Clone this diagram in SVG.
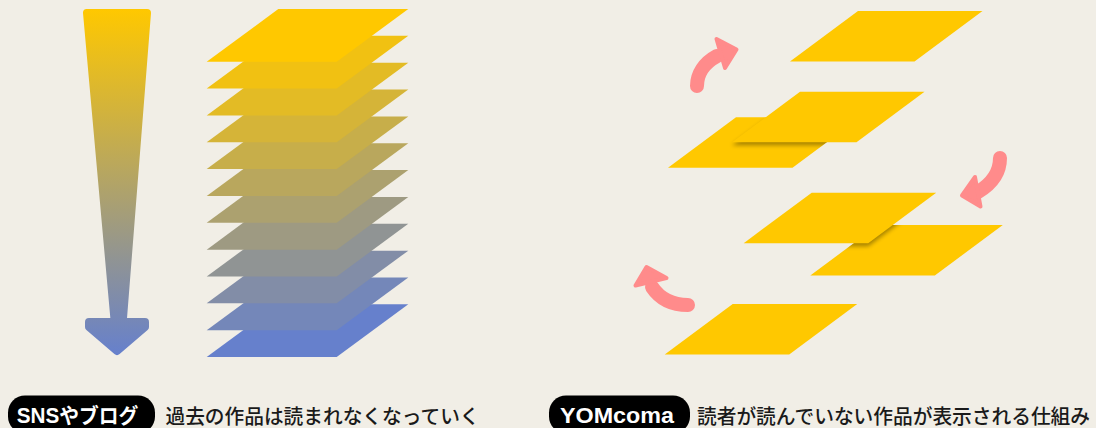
<svg xmlns="http://www.w3.org/2000/svg" xmlns:xlink="http://www.w3.org/1999/xlink" width="1096" height="428" viewBox="0 0 1096 428">
  <defs>
    <style>
      .bg { fill: #F1EEE6; }
      .yel { fill: #FFC800; }
      .pink-shaft { fill: none; stroke: #FF8B8B; stroke-width: 14; stroke-linecap: round; }
      .pink-head { fill: #FF8B8B; stroke: #FF8B8B; stroke-width: 4; stroke-linejoin: round; }
      .pill { fill: #000; }
      .pill-text { fill: #fff; font-family: "Liberation Sans", Arial, "Noto Sans CJK JP", sans-serif; font-weight: bold; font-size: 22px; }
      .kana { font-family: "Noto Sans CJK JP", sans-serif; font-size: 21px; }
      .caption { fill: #1A1A1A; font-family: "Noto Sans CJK JP", "Noto Sans", sans-serif; font-weight: 500; font-size: 20px; }
      .shadow { fill: #000; opacity: 0.35; }
    </style>
    <linearGradient id="arrowGrad" x1="0" y1="9" x2="0" y2="355" gradientUnits="userSpaceOnUse">
      <stop offset="0" stop-color="#FFC800"/>
      <stop offset="1" stop-color="#6680CC"/>
    </linearGradient>
    <polygon id="lp" points="278.3,9 408.3,9 336.7,61.7 206.7,61.7"/>
    <polygon id="rp" points="68,0 192.5,0 124.5,50.5 0,50.5"/>
    <filter id="blur" x="-20%" y="-50%" width="140%" height="200%">
      <feGaussianBlur stdDeviation="2"/>
    </filter>
    <clipPath id="clipC">
      <use xlink:href="#rp" transform="translate(668,117.3)"/>
    </clipPath>
    <clipPath id="clipE">
      <use xlink:href="#rp" transform="translate(810.3,225)"/>
    </clipPath>
  </defs>

  <rect class="bg" x="0" y="0" width="1096" height="428"/>

  <!-- Left: big gradient arrow -->
  <g id="time-arrow">
    <path d="M87,13 L147,13 L122.7,322 L145,322 L145,327 L117,351 L89,327 L89,322 L114.7,322 Z" fill="url(#arrowGrad)" stroke="url(#arrowGrad)" stroke-width="8" stroke-linejoin="round"/>
  </g>

  <!-- Left: stack of posts (bottom drawn first) -->
  <g id="post-stack">
    <use xlink:href="#lp" transform="translate(0,295.35)" fill="#6680CC"/>
    <use xlink:href="#lp" transform="translate(0,268.5)" fill="#7487B9"/>
    <use xlink:href="#lp" transform="translate(0,241.65)" fill="#828DA7"/>
    <use xlink:href="#lp" transform="translate(0,214.8)" fill="#909494"/>
    <use xlink:href="#lp" transform="translate(0,187.95)" fill="#9E9A82"/>
    <use xlink:href="#lp" transform="translate(0,161.1)" fill="#ACA16F"/>
    <use xlink:href="#lp" transform="translate(0,134.25)" fill="#B9A75D"/>
    <use xlink:href="#lp" transform="translate(0,107.4)" fill="#C7AE4A"/>
    <use xlink:href="#lp" transform="translate(0,80.55)" fill="#D5B438"/>
    <use xlink:href="#lp" transform="translate(0,53.7)" fill="#E3BB25"/>
    <use xlink:href="#lp" transform="translate(0,26.85)" fill="#F1C112"/>
    <use xlink:href="#lp" transform="translate(0,0)" fill="#FFC800"/>
  </g>

  <!-- Right: shuffled posts -->
  <g id="post-a">
    <use xlink:href="#rp" class="yel" transform="translate(790,11)"/>
  </g>
  <g id="post-c">
    <use xlink:href="#rp" class="yel" transform="translate(668,117.3)"/>
    <g clip-path="url(#clipC)">
      <use xlink:href="#rp" class="shadow" transform="translate(732,94.7)" filter="url(#blur)"/>
    </g>
  </g>
  <g id="post-b">
    <use xlink:href="#rp" class="yel" transform="translate(732,91.7)"/>
  </g>
  <g id="post-e">
    <use xlink:href="#rp" class="yel" transform="translate(810.3,225)"/>
    <g clip-path="url(#clipE)">
      <use xlink:href="#rp" class="shadow" transform="translate(743.7,195.7)" filter="url(#blur)"/>
    </g>
  </g>
  <g id="post-d">
    <use xlink:href="#rp" class="yel" transform="translate(743.7,192.7)"/>
  </g>
  <g id="post-f">
    <use xlink:href="#rp" class="yel" transform="translate(664.7,304)"/>
  </g>

  <!-- Cycle arrows -->
  <g id="connectors">
    <path class="pink-shaft" d="M697,86 C697,74 704,63 717,56"/>
    <polygon class="pink-head" points="716.5,39 736.5,49.5 725,68"/>
    <path class="pink-shaft" d="M1000,158 C1000,172 993,183 978,192"/>
    <polygon class="pink-head" points="975,177 980.5,206.5 962,195.5"/>
    <path class="pink-shaft" d="M688,305 C672,305 660,299 652,287"/>
    <polygon class="pink-head" points="646.5,267 666.5,278 635.5,285.5"/>
  </g>

  <!-- Labels -->
  <g id="label-left">
    <rect class="pill" x="8" y="395.5" width="147" height="38" rx="17"/>
    <text class="pill-text" x="16.7" y="423" textLength="121.5" lengthAdjust="spacingAndGlyphs">SNS<tspan class="kana">やブログ</tspan></text>
    <text class="caption" x="165.5" y="424" textLength="314" lengthAdjust="spacingAndGlyphs">過去の作品は読まれなくなっていく</text>
  </g>
  <g id="label-right">
    <rect class="pill" x="549" y="395.5" width="141" height="38" rx="17"/>
    <text class="pill-text" x="560" y="423" textLength="114" lengthAdjust="spacingAndGlyphs">YOMcoma</text>
    <text class="caption" x="697" y="424" textLength="393" lengthAdjust="spacingAndGlyphs">読者が読んでいない作品が表示される仕組み</text>
  </g>
</svg>
